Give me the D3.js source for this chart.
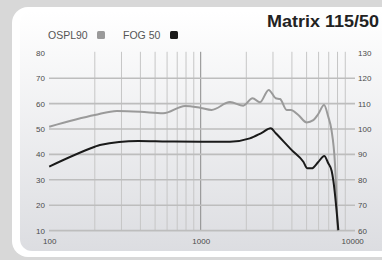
<html>
<script src='https://d3js.org/d3.v7.min.js'></script>
<style>
body {margin:0; background:#d8d8d8;}
text {font-family: "Liberation Sans", Arial, sans-serif;}
</style>
<body>
<svg width=382 height=260></svg>
<script>
// OSPL90 (right axis, dB) and FOG 50 (left axis, dB) vs frequency
var osplFreq = [100, 200, 280, 400, 566, 788, 1000, 1180, 1560, 1910, 2200, 2460, 2810, 3130, 3340, 3690, 3940, 4410, 5010, 5540, 5970, 6520, 6950, 7300, 7690, 8030];
var osplVal  = [100.9, 105.5, 107.1, 106.8, 106.2, 109.1, 108.3, 107.5, 110.6, 109.2, 112.1, 110.5, 115.4, 112.1, 111.8, 107.5, 107.5, 105.5, 102.6, 103.5, 105.9, 109.4, 104.8, 99.6, 86.6, 60];
var fogFreq = [100, 200, 216, 387, 600, 1000, 1560, 2110, 2530, 2900, 3130, 3990, 4760, 5060, 5400, 5970, 6540, 6950, 7320, 7500, 8100];
var fogVal  = [35.2, 43.0, 43.7, 45.3, 45.1, 45.0, 45.0, 46.3, 48.5, 50.3, 48.3, 41.7, 37.1, 34.5, 34.5, 37.0, 39.4, 36.5, 33.5, 29.9, 10.2];
var leftTicks = [10, 20, 30, 40, 50, 60, 70, 80];
var rightTicks = [60, 70, 80, 90, 100, 110, 120, 130];
var freqLabels = [100, 1000, 10000];
var freqGrid = [200, 300, 400, 500, 600, 700, 800, 900, 1000, 2000, 3000, 4000, 5000, 6000, 7000, 8000, 9000];

var svg = d3.select("svg");
var defs = svg.append("defs");
var grad = defs.append("linearGradient").attr("id", "bg").attr("x1", 0).attr("y1", 0).attr("x2", 0).attr("y2", 1);
grad.append("stop").attr("offset", "0%").attr("stop-color", "#ffffff");
grad.append("stop").attr("offset", "100%").attr("stop-color", "#dcdde1");

// panel
svg.append("rect").attr("x", 12).attr("y", 7).attr("width", 400).attr("height", 250).attr("rx", 16).attr("fill", "#ffffff");
svg.append("rect").attr("x", 20).attr("y", 11).attr("width", 400).attr("height", 240).attr("rx", 12).attr("fill", "url(#bg)");

var x = d3.scaleLog().domain([100, 10000]).range([49.2, 352.2]);
var yL = d3.scaleLinear().domain([10, 80]).range([230.6, 52.8]);
var yR = d3.scaleLinear().domain([60, 130]).range([230.6, 52.8]);

// vertical grid
svg.append("g").selectAll("line").data(freqGrid).enter().append("line")
	.attr("x1", function(d){return x(d);}).attr("x2", function(d){return x(d);})
	.attr("y1", yL(80) - 1).attr("y2", yL(10))
	.attr("stroke", function(d){return d == 1000 ? "#8a8a8a" : "#c6c6c6";})
	.attr("stroke-width", 1);

// horizontal grid
svg.append("g").selectAll("line").data(leftTicks.filter(function(d){return d < 80;})).enter().append("line")
	.attr("x1", 49).attr("x2", 355)
	.attr("y1", function(d){return yL(d);}).attr("y2", function(d){return yL(d);})
	.attr("stroke", "#bdbdbd").attr("stroke-width", 1.6);

// axis labels
var axL = svg.append("g").attr("transform", "translate(" + 45 + ",0)")
	.call(d3.axisLeft(yL).tickValues(leftTicks).tickSize(0).tickPadding(0));
var axR = svg.append("g").attr("transform", "translate(" + 358 + ",0)")
	.call(d3.axisRight(yR).tickValues(rightTicks).tickSize(0).tickPadding(0));
var axB = svg.append("g").attr("transform", "translate(0," + 238 + ")")
	.call(d3.axisBottom(x).tickValues(freqLabels).tickFormat(function(d){return d;}).tickSize(0).tickPadding(0));
[axL, axR, axB].forEach(function(a){
	a.select(".domain").remove();
	a.selectAll("text").attr("fill", "#4a4a4a").style("font-size", "8px").style("font-family", "Liberation Sans, Arial, sans-serif");
});
axB.selectAll("text").attr("dy", "0.71em");

// lines
var lineR = d3.line().x(function(d){return x(d[0]);}).y(function(d){return yR(d[1]);}).curve(d3.curveMonotoneX);
var lineL = d3.line().x(function(d){return x(d[0]);}).y(function(d){return yL(d[1]);}).curve(d3.curveMonotoneX);
svg.append("path").datum(d3.zip(osplFreq, osplVal)).attr("d", lineR)
	.attr("fill", "none").attr("stroke", "#9a9a9a").attr("stroke-width", 2).attr("stroke-linejoin", "round");
svg.append("path").datum(d3.zip(fogFreq, fogVal)).attr("d", lineL)
	.attr("fill", "none").attr("stroke", "#1a1a1a").attr("stroke-width", 2).attr("stroke-linejoin", "round");

// legend
svg.append("text").attr("x", 48).attr("y", 39).text("OSPL90").style("font-size", "10.5px").attr("fill", "#555");
svg.append("rect").attr("x", 97).attr("y", 31).attr("width", 8).attr("height", 8).attr("rx", 1.5).attr("fill", "#9a9a9a");
svg.append("text").attr("x", 123).attr("y", 39).text("FOG 50").style("font-size", "10.5px").attr("fill", "#555");
svg.append("rect").attr("x", 170).attr("y", 31).attr("width", 8).attr("height", 8).attr("rx", 1.5).attr("fill", "#1a1a1a");

// title
svg.append("text").attr("x", 379).attr("y", 27).attr("text-anchor", "end").text("Matrix 115/50")
	.attr("textLength", 112).attr("lengthAdjust", "spacingAndGlyphs")
	.style("font-size", "17px").style("font-weight", "bold").attr("fill", "#222");
</script>
</body>
</html>
